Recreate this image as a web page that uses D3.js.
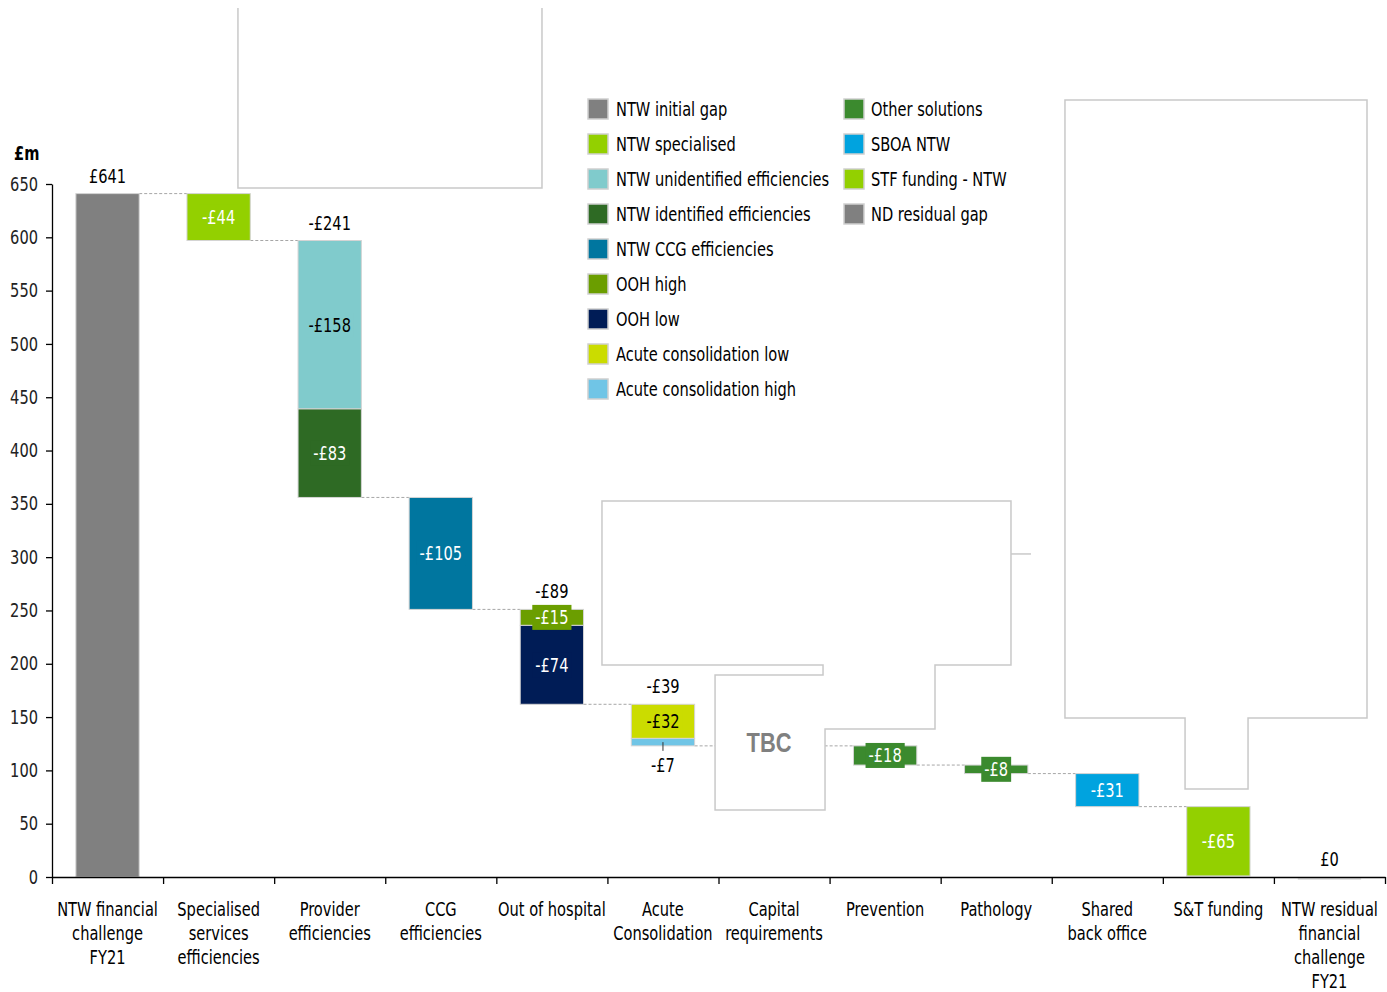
<!DOCTYPE html>
<html><head><meta charset="utf-8">
<script src="https://cdnjs.cloudflare.com/ajax/libs/d3/7.8.5/d3.min.js"></script>
<style>html,body{margin:0;padding:0;background:#fff;}</style>
</head><body>
<svg id="c" width="1387" height="992"></svg>
<script>
// ---------------- data ----------------
const categories = ["NTW financial\nchallenge\nFY21", "Specialised\nservices\nefficiencies", "Provider\nefficiencies",
  "CCG\nefficiencies", "Out of hospital", "Acute\nConsolidation", "Capital\nrequirements", "Prevention",
  "Pathology", "Shared\nback office", "S&T funding", "NTW residual\nfinancial\nchallenge\nFY21"];
const yTicks = [0,50,100,150,200,250,300,350,400,450,500,550,600,650];

// waterfall segments (in drawing order)
const segCategory = [0, 1, 2, 2, 3, 4, 4, 5, 5, 7, 8, 9, 10, 11];
const segSeries = ["NTW initial gap","NTW specialised","NTW unidentified efficiencies","NTW identified efficiencies",
  "NTW CCG efficiencies","OOH high","OOH low","Acute consolidation low","Acute consolidation high",
  "Other solutions","Other solutions","SBOA NTW","STF funding - NTW","ND residual gap"];
const segValues = [641, -44, -158, -83, -105, -15, -74, -32, -7, -18, -8, -31, -65, 0];
const segIsTotal = [true,false,false,false,false,false,false,false,false,false,false,false,false,true];
const segLabelPos = ["none","in","in","in","in","in","in","in","below","in","in","in","in","none"];
const segLabelDark = [false,false,true,false,false,false,false,true,true,false,false,false,false,false];

// category total labels
const totalLabels = ["£641","","-£241","","-£89","-£39","","","","","","£0"];

const legendNames1 = ["NTW initial gap","NTW specialised","NTW unidentified efficiencies","NTW identified efficiencies",
  "NTW CCG efficiencies","OOH high","OOH low","Acute consolidation low","Acute consolidation high"];
const legendNames2 = ["Other solutions","SBOA NTW","STF funding - NTW","ND residual gap"];
const seriesColors = {
  "NTW initial gap":"#808080","NTW specialised":"#93d000","NTW unidentified efficiencies":"#80cbcc",
  "NTW identified efficiencies":"#2e6a24","NTW CCG efficiencies":"#00769f","OOH high":"#6b9e00",
  "OOH low":"#001c56","Acute consolidation low":"#cbdc00","Acute consolidation high":"#70c5e6",
  "Other solutions":"#3b8a2e","SBOA NTW":"#00a3df","STF funding - NTW":"#93d000","ND residual gap":"#808080"
};

// empty outline frames (x in category units, y in £m)
const frameA = [[1.674,815],[1.674,646.3],[4.411,646.3],[4.411,815]];
const frameB = [[4.951,352.7],[8.633,352.7],[8.633,198.8],[7.949,198.8],[7.949,138.8],[6.959,138.8],[6.959,62.8],
  [5.969,62.8],[5.969,189.5],[6.941,189.5],[6.941,198.8],[4.951,198.8]];
const frameBStub = [[8.633,303],[8.813,303]];
const frameC = [[9.119,728.8],[11.838,728.8],[11.838,149.1],[10.767,149.1],[10.767,82.5],[10.2,82.5],[10.2,149.1],[9.119,149.1]];
const tbcPos = [6.455, 126];

// ---------------- drawing ----------------
const SX = 0.77, FONT = "'DejaVu Sans', Verdana, sans-serif", FS = 19;
const svg = d3.select("#c");
const y = d3.scaleLinear().domain([0, 650]).range([877, 184]);
const xu = d3.scaleLinear().domain([0, 12]).range([52, 1385]);
const xb = d3.scaleBand().domain(d3.range(12)).range([52, 1385]).paddingInner(0.43).paddingOuter(0.215);
const bw = xb.bandwidth();

function addText(parent, x, yy, str, o = {}) {
  return parent.append("text")
    .attr("transform", `translate(${x},${yy}) scale(${o.sx || SX},1)`)
    .attr("text-anchor", o.anchor || "middle")
    .attr("font-family", o.family || FONT)
    .attr("font-size", o.size || FS)
    .attr("font-weight", o.weight || "normal")
    .attr("fill", o.fill || "#000")
    .attr("dy", o.dy || null)
    .text(str);
}

// compute segments
let running = 0;
const segs = segValues.map((v, i) => {
  let a, b;
  if (segIsTotal[i]) { a = 0; b = v; running = v; }
  else { a = running; b = running + v; running = b; }
  return {i, cat: segCategory[i], v, lo: Math.min(a, b), hi: Math.max(a, b), end: b, start: a,
          color: seriesColors[segSeries[i]]};
});

// connectors between consecutive drawn categories
const catEnd = {};
segs.forEach(s => { catEnd[s.cat] = s.end; });
const drawnCats = Object.keys(catEnd).map(Number).sort((a, b) => a - b);
const conn = svg.append("g");
for (let k = 0; k < drawnCats.length - 1; k++) {
  const c0 = drawnCats[k], c1 = drawnCats[k + 1];
  const lvl = catEnd[c0];
  if (lvl < 5) continue; // lands on the axis
  conn.append("line").attr("x1", xb(c0) + bw).attr("x2", xb(c1))
    .attr("y1", y(lvl)).attr("y2", y(lvl))
    .attr("stroke", "#a6a6a6").attr("stroke-width", 1).attr("stroke-dasharray", "3,2");
}

// frames
const line = d3.line().x(d => xu(d[0])).y(d => y(d[1]));
const fr = svg.append("g").attr("fill", "#fff").attr("stroke", "#c9c9c9").attr("stroke-width", 1.5);
fr.append("path").attr("d", line(frameA));
fr.append("path").attr("d", line(frameB) + "Z");
fr.append("path").attr("d", line(frameBStub)).attr("fill", "none");
fr.append("path").attr("d", line(frameC) + "Z");
addText(svg, xu(tbcPos[0]), y(tbcPos[1]), "TBC", {family: "'Liberation Sans', Arial, sans-serif", size: 28,
  weight: "bold", fill: "#808080", sx: 0.78, dy: "0.35em"});

// bars
const bars = svg.append("g");
segs.forEach(s => {
  const h = Math.max(y(s.lo) - y(s.hi), 0);
  if (h === 0) {
    bars.append("rect").attr("x", xb(s.cat)).attr("y", y(0) + 1).attr("width", bw).attr("height", 2)
      .attr("fill", "#e3e3e3");
    return;
  }
  bars.append("rect").attr("x", xb(s.cat)).attr("y", y(s.hi)).attr("width", bw).attr("height", h)
    .attr("fill", s.color).attr("stroke", "#d4d4d4").attr("stroke-width", 1);
});

// segment labels
const labs = svg.append("g");
segs.forEach(s => {
  const txt = (s.v < 0 ? "-£" : "£") + Math.abs(s.v);
  const cx = xb(s.cat) + bw / 2;
  if (segLabelPos[s.i] === "in") {
    const cy = y((s.lo + s.hi) / 2);
    const g = labs.append("g");
    const bg = g.append("rect");
    const t = addText(g, cx, cy, txt, {fill: segLabelDark[s.i] ? "#000" : "#fff", dy: "0.36em"});
    const w = t.node().getComputedTextLength() * SX + 6;
    bg.attr("x", cx - w / 2).attr("y", cy - 12.5).attr("width", w).attr("height", 25).attr("fill", s.color);
  } else if (segLabelPos[s.i] === "below") {
    labs.append("line").attr("x1", cx).attr("x2", cx).attr("y1", y((s.lo + s.hi) / 2)).attr("y2", y(s.lo) + 5)
      .attr("stroke", "#333").attr("stroke-width", 1);
    addText(labs, cx, y(s.lo) + 26, txt, {});
  }
});

// category total labels
totalLabels.forEach((t, c) => {
  if (!t) return;
  const cs = segs.filter(s => s.cat === c);
  const top = d3.max(cs, s => s.hi);
  addText(svg, xb(c) + bw / 2, y(top) - 11, t, {});
});

// y axis
const ya = svg.append("g").attr("transform", "translate(52,0)")
  .call(d3.axisLeft(y).tickValues(yTicks).tickSize(6).tickSizeOuter(0).tickFormat(d => d));
ya.select(".domain").attr("stroke", "#000").attr("stroke-width", 1.3);
ya.selectAll(".tick line").attr("stroke", "#000").attr("stroke-width", 1.3);
ya.selectAll(".tick text").attr("x", -14 / SX).attr("transform", `scale(${SX},1)`)
  .attr("font-family", FONT).attr("font-size", FS).attr("fill", "#222");
addText(svg, 14, 160, "£m", {anchor: "start", weight: "bold"});

// x axis
const xa = svg.append("g").attr("transform", `translate(0,${y(0)})`)
  .call(d3.axisBottom(xu).tickValues(d3.range(13)).tickSize(7).tickSizeOuter(0).tickFormat(""));
xa.select(".domain").attr("stroke", "#000").attr("stroke-width", 1.3);
xa.selectAll(".tick line").attr("stroke", "#000").attr("stroke-width", 1.3);

categories.forEach((c, i) => {
  const t = addText(svg, xb(i) + bw / 2, 916, "", {});
  c.split("\n").forEach((ln, k) => {
    t.append("tspan").attr("x", 0).attr("dy", k === 0 ? 0 : 24).text(ln);
  });
});

// legend
const lg = svg.append("g");
[[legendNames1, 588, 616], [legendNames2, 844, 871]].forEach(([names, sx0, tx]) => {
  names.forEach((n, k) => {
    const cy = 109 + k * 35;
    lg.append("rect").attr("x", sx0).attr("y", cy - 10).attr("width", 20).attr("height", 20)
      .attr("fill", seriesColors[n]).attr("stroke", "#d0d0d0").attr("stroke-width", 1.5);
    addText(lg, tx, cy, n, {anchor: "start", dy: "0.36em"});
  });
});
</script>
</body></html>
